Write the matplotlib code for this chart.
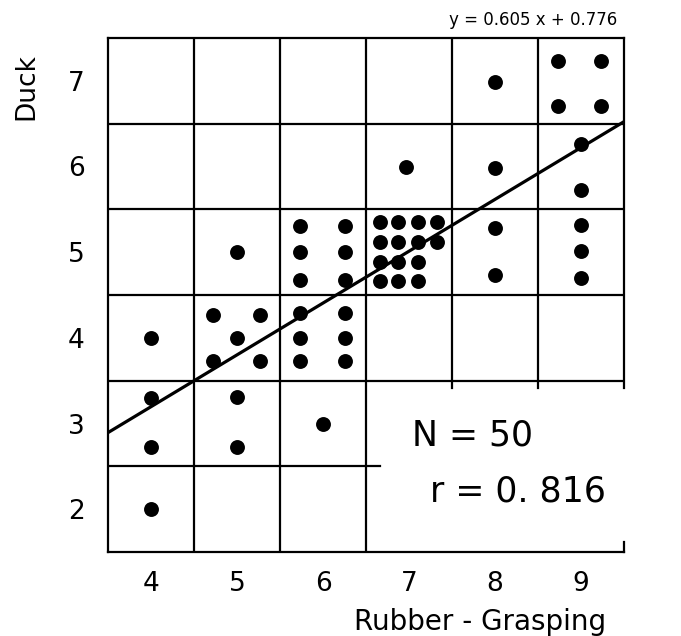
import matplotlib
matplotlib.use("Agg")
import matplotlib.pyplot as plt
import numpy as np

# scores (jittered inside each cell, as printed)
xs = [4.0,
      4.0, 4.0,
      4.0,
      5.0, 5.0,
      4.72, 5.27, 5.0, 4.72, 5.27,
      5.0,
      6.0,
      5.73, 6.25, 5.73, 6.25, 5.73, 6.25,
      5.73, 6.25, 5.73, 6.25, 5.73, 6.25,
      6.66, 6.87, 7.10, 7.32,
      6.66, 6.87, 7.10, 7.32,
      6.66, 6.87, 7.10,
      6.66, 6.87, 7.10,
      6.97,
      8.0, 8.0,
      8.0,
      8.0,
      9.0, 9.0, 9.0,
      9.0, 9.0,
      8.73, 9.23, 8.73, 9.23]
ys = [2.0,
      2.73, 3.30,
      4.0,
      2.73, 3.31,
      4.27, 4.27, 4.0, 3.73, 3.73,
      5.0,
      3.0,
      4.29, 4.29, 4.0, 4.0, 3.73, 3.73,
      5.30, 5.30, 5.0, 5.0, 4.68, 4.68,
      5.35, 5.35, 5.35, 5.35,
      5.12, 5.12, 5.12, 5.12,
      4.89, 4.89, 4.89,
      4.66, 4.66, 4.66,
      5.99,
      5.28, 4.73,
      5.98,
      6.99,
      5.32, 5.01, 4.70,
      6.26, 5.72,
      7.23, 7.23, 6.71, 6.71]

x_ticks = [4, 5, 6, 7, 8, 9]
y_ticks = [2, 3, 4, 5, 6, 7]
slope = 0.605
intercept = 0.776

fig = plt.figure(figsize=(6.81, 6.36), dpi=100)
ax = fig.add_axes([108/681, 84/636, 516/681, 514/636])
ax.set_xlim(3.5, 9.5)
ax.set_ylim(1.5, 7.5)

lw = 1.6
for s in ["left", "top", "bottom"]:
    ax.spines[s].set_linewidth(lw)
ax.spines["right"].set_visible(False)

# cell grid
for v in [4.5, 5.5, 6.5]:
    ax.plot([v, v], [1.5, 7.5], color="black", lw=lw)
for v in [7.5, 8.5]:
    ax.plot([v, v], [3.42, 7.5], color="black", lw=lw)
ax.plot([9.5, 9.5], [3.42, 7.5], color="black", lw=lw, clip_on=False)
ax.plot([9.5, 9.5], [1.5, 1.62], color="black", lw=lw, clip_on=False)
for h in [3.5, 4.5, 5.5, 6.5]:
    ax.plot([3.5, 9.5], [h, h], color="black", lw=lw)
ax.plot([3.5, 6.66], [2.5, 2.5], color="black", lw=lw)

ax.scatter(xs, ys, s=115, color="black", zorder=3, linewidths=0)

lx = np.array([3.5, 9.5])
ax.plot(lx, slope * lx + intercept, color="black", lw=2.3, zorder=4)

ax.set_xticks(x_ticks)
ax.set_yticks(y_ticks)
ax.tick_params(axis="x", length=0, pad=14, labelsize=19)
ax.tick_params(axis="y", length=0, pad=17, labelsize=19)

fig.text(26/681, 1 - 87/636, "Duck", rotation=90, fontsize=19, ha="center", va="center")
fig.text(606/681, 1 - 630/636, "Rubber - Grasping", fontsize=20, ha="right", va="baseline")
fig.text(533/681, 1 - 20/636, "y = 0.605 x + 0.776", fontsize=12, ha="center", va="center")
fig.text(412/681, 1 - 435/636, "N = 50", fontsize=25, ha="left", va="center")
fig.text(430/681, 1 - 491/636, "r = 0. 816", fontsize=25, ha="left", va="center")

fig.savefig("out.png", dpi=100, facecolor="white")
